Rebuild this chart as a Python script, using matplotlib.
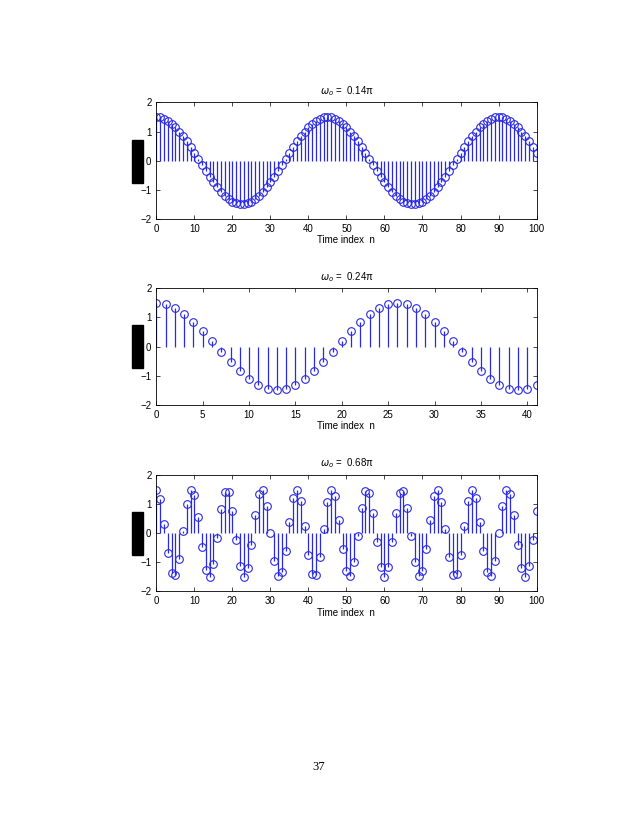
import numpy as np
import matplotlib.pyplot as plt
from matplotlib.patches import Rectangle

plt.rcParams["font.family"] = ["Liberation Sans", "DejaVu Sans"]
plt.rcParams["font.size"] = 7

# values, one list per panel
x1 = [1.50, 1.49, 1.44, 1.37, 1.27, 1.15, 1.00, 0.84, 0.66, 0.46, 0.26, 0.05, -0.16, -0.36, -0.56,
      -0.75, -0.92, -1.08, -1.21, -1.32, -1.41, -1.47, -1.50, -1.50, -1.47, -1.41, -1.32, -1.21, -1.08,
      -0.92, -0.75, -0.56, -0.36, -0.16, 0.05, 0.26, 0.46, 0.66, 0.84, 1.00, 1.15, 1.27, 1.37, 1.44, 1.49,
      1.50, 1.49, 1.44, 1.37, 1.27, 1.15, 1.00, 0.84, 0.66, 0.46, 0.26, 0.05, -0.16, -0.36, -0.56,
      -0.75, -0.92, -1.08, -1.21, -1.32, -1.41, -1.47, -1.50, -1.50, -1.47, -1.41, -1.32, -1.21, -1.08,
      -0.92, -0.75, -0.56, -0.36, -0.16, 0.05, 0.26, 0.46, 0.66, 0.84, 1.00, 1.15, 1.27, 1.37, 1.44, 1.49,
      1.50, 1.49, 1.44, 1.37, 1.27, 1.15, 1.00, 0.84, 0.66, 0.46, 0.26]
x2 = [1.50, 1.46, 1.33, 1.12, 0.85, 0.53, 0.18, -0.18, -0.53, -0.85, -1.12, -1.33, -1.46, -1.50,
      -1.46, -1.33, -1.12, -0.85, -0.53, -0.18, 0.18, 0.53, 0.85, 1.12, 1.33, 1.46, 1.50, 1.46, 1.33,
      1.12, 0.85, 0.53, 0.18, -0.18, -0.53, -0.85, -1.12, -1.33, -1.46, -1.50, -1.46, -1.33]
x3 = [1.50, 1.17, 0.31, -0.68, -1.37, -1.45, -0.88, 0.08, 1.00, 1.48, 1.30, 0.54, -0.46, -1.26,
      -1.49, -1.06, -0.16, 0.82, 1.43, 1.40, 0.75, -0.23, -1.11, -1.50, -1.21, -0.39, 0.61, 1.34, 1.47,
      0.94, 0.00, -0.94, -1.47, -1.34, -0.61, 0.39, 1.21, 1.50, 1.11, 0.23, -0.75, -1.40, -1.43, -0.82,
      0.16, 1.06, 1.49, 1.26, 0.46, -0.54, -1.30, -1.48, -1.00, -0.08, 0.88, 1.45, 1.37, 0.68, -0.31,
      -1.17, -1.50, -1.17, -0.31, 0.68, 1.37, 1.45, 0.88, -0.08, -1.00, -1.48, -1.30, -0.54, 0.46, 1.26,
      1.49, 1.06, 0.16, -0.82, -1.43, -1.40, -0.75, 0.23, 1.11, 1.50, 1.21, 0.39, -0.61, -1.34, -1.47,
      -0.94, 0.00, 0.94, 1.47, 1.34, 0.61, -0.39, -1.21, -1.50, -1.11, -0.23, 0.75]
titles = ["0.14", "0.24", "0.68"]
xticks = [np.arange(0, 101, 10), np.arange(0, 41, 5), np.arange(0, 101, 10)]
xlims = [(0, 100), (0, 41), (0, 100)]

fig = plt.figure(figsize=(6.38, 8.26), dpi=100)
bottoms = [0.735, 0.510, 0.284]
blue = "#2a2ae6"

for data, t, xt, xl, b in zip([x1, x2, x3], titles, xticks, xlims, bottoms):
    ax = fig.add_axes([0.245, b, 0.596, 0.141])
    n = np.arange(len(data))
    ml, sl, bl = ax.stem(n, data, basefmt=" ")
    sl.set_color(blue)
    sl.set_linewidth(0.9)
    plt.setp(ml, marker="o", markersize=5.5, markerfacecolor="none",
             markeredgecolor=blue, markeredgewidth=0.8)
    ax.set_xlim(*xl)
    ax.set_ylim(-2, 2)
    ax.set_xticks(xt)
    ax.set_yticks([-2, -1, 0, 1, 2])
    ax.tick_params(direction="in", top=True, right=True, length=3, width=0.5, labelsize=7)
    for s in ax.spines.values():
        s.set_linewidth(0.6)
    ax.set_xlabel("Time index  n", fontsize=7, labelpad=1)
    ax.set_title(r"$\omega_o$ =  " + t + "π", fontsize=7, pad=6)
    fig.patches.append(Rectangle((0.207, b + 0.044), 0.017, 0.052,
                                 transform=fig.transFigure, color="black", zorder=5))

fig.text(0.5, 0.068, "37", ha="center", fontsize=9, family="Liberation Serif")
fig.savefig("out.png", dpi=100)
